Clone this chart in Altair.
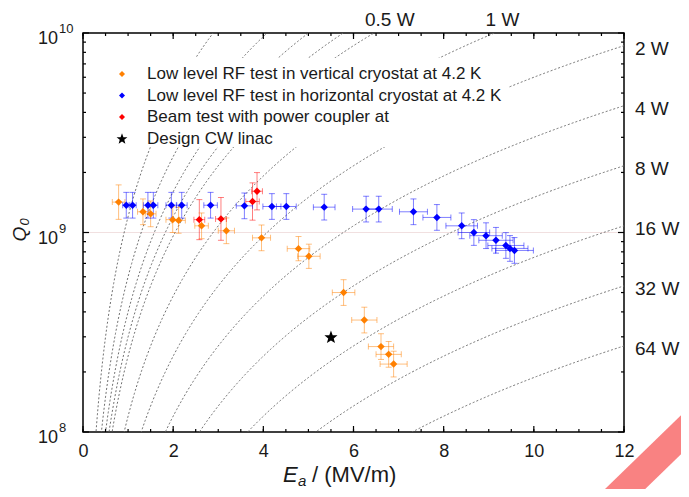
import altair as alt
import numpy as np
import pandas as pd

# ---------------- values ----------------
# Low level RF test in vertical cryostat at 4.2 K (orange)
vert_ea  = [0.79, 1.33, 1.50, 1.99, 2.12, 2.63, 3.18, 3.96, 4.78, 5.01, 5.78, 6.24, 6.61, 6.78, 6.89]
vert_q   = [1.42e9, 1.27e9, 1.24e9, 1.16e9, 1.15e9, 1.08e9, 1.02e9, 0.94e9, 0.83e9, 0.76e9,
            0.50e9, 0.364e9, 0.268e9, 0.245e9, 0.219e9]
vert_dea = [0.14, 0.12, 0.12, 0.15, 0.15, 0.15, 0.18, 0.20, 0.25, 0.25, 0.25, 0.28, 0.28, 0.28, 0.30]
vert_dq  = [0.22, 0.16, 0.16, 0.16, 0.16, 0.16, 0.16, 0.16, 0.15, 0.15, 0.16, 0.16, 0.16, 0.16, 0.16]

# Low level RF test in horizontal cryostat at 4.2 K (blue)
horiz_ea  = [0.96, 1.10, 1.44, 1.56, 1.96, 2.19, 2.83, 3.58, 4.19, 4.51, 5.35, 6.28, 6.56,
             7.33, 7.85, 8.40, 8.67, 8.94, 9.16, 9.38, 9.47, 9.57]
horiz_q   = [1.37e9, 1.37e9, 1.37e9, 1.37e9, 1.37e9, 1.37e9, 1.37e9, 1.36e9, 1.35e9, 1.35e9,
             1.34e9, 1.31e9, 1.31e9, 1.27e9, 1.19e9, 1.08e9, 1.00e9, 0.964e9, 0.914e9,
             0.861e9, 0.832e9, 0.813e9]
horiz_dea = [0.08, 0.08, 0.10, 0.10, 0.12, 0.12, 0.15, 0.18, 0.20, 0.22, 0.24, 0.30, 0.30,
             0.31, 0.31, 0.35, 0.35, 0.36, 0.38, 0.40, 0.40, 0.42]
horiz_dq  = [0.16, 0.16, 0.16, 0.16, 0.16, 0.16, 0.16, 0.16, 0.16, 0.16, 0.16, 0.16, 0.16,
             0.16, 0.16, 0.16, 0.16, 0.16, 0.16, 0.16, 0.16, 0.16]

# Beam test with power coupler (red)
beam_ea  = [2.58, 3.06, 3.76, 3.86]
beam_q   = [1.16e9, 1.17e9, 1.43e9, 1.61e9]
beam_dea = [0.12, 0.12, 0.15, 0.12]
beam_dq  = [0.26, 0.28, 0.24, 0.24]

# Design CW linac (star)
design_ea = [5.5]
design_q  = [3.0e8]

# constant dissipated-power curves  Q0 = K * Ea^2 / P
curve_k      = 1.2e8
curve_powers = [0.1, 0.2, 0.3, 0.4, 0.5, 1, 2, 4, 8, 16, 32, 64]
right_powers = [2, 4, 8, 16, 32, 64]
right_labels = ["2 W", "4 W", "8 W", "16 W", "32 W", "64 W"]
top_powers   = [0.5, 1]
top_labels   = ["0.5 W", "1 W"]

legend_labels = ["Low level RF test in vertical cryostat at 4.2 K",
                 "Low level RF test in horizontal cryostat at 4.2 K",
                 "Beam test with power coupler at",
                 "Design CW linac"]

series_names  = ["vertical", "horizontal", "beam"]
series_colors = ["#ff8000", "#0000ff", "#ff0000"]

x_major = [0, 2, 4, 6, 8, 10, 12]
x_minor = [0.5 * i for i in range(25)]
y_major = [1e8, 1e9, 1e10]
y_minor = [m * d for d in (1e8, 1e9) for m in range(2, 10)]
y_exp   = ["8", "9", "10"]

# ---------------- layout ----------------
W, H = 541, 399
FONT = "Liberation Sans"
TXT = "#1a1a1a"

# five-pointed star symbol as a custom path in the [-1, 1] box
_ang = np.deg2rad(-90 + 36 * np.arange(10))
_rad = np.where(np.arange(10) % 2 == 0, 1.0, 0.42)
STAR = "M" + " L".join(f"{r * np.cos(a):.3f},{r * np.sin(a) + 0.1:.3f}" for r, a in zip(_rad, _ang)) + " Z"

xs = alt.Scale(domain=[0, 12], nice=False, zero=False)
ys = alt.Scale(type="log", domain=[1e8, 1e10], nice=False)
cscale = alt.Scale(domain=series_names, range=series_colors)

XAX = alt.Axis(orient="bottom", values=x_major, ticks=False, domain=False, grid=False, title=None,
               labelFontSize=18, labelFont=FONT, labelColor=TXT, labelPadding=10, labelFlush=False,
               format="d")
YAX = alt.Axis(orient="left", values=y_major, ticks=False, domain=False, grid=False, title=None,
               labels=False)


def X(f):
    return alt.X(f, type="quantitative", scale=xs, axis=XAX)


def Y(f):
    return alt.Y(f, type="quantitative", scale=ys, axis=YAX)


COLOR = alt.Color("series:N", scale=cscale, legend=None)

rows = []
for name, ea, q, dea, dq in [("vertical", vert_ea, vert_q, vert_dea, vert_dq),
                             ("horizontal", horiz_ea, horiz_q, horiz_dea, horiz_dq),
                             ("beam", beam_ea, beam_q, beam_dea, beam_dq)]:
    for a, b, c, d in zip(ea, q, dea, dq):
        rows.append(dict(series=name, ea=a, q=b, ea_lo=a - c, ea_hi=a + c,
                         q_lo=b / (1 + d), q_hi=b * (1 + d)))
pts = pd.DataFrame(rows)

capv = pd.concat([pts.assign(qc=pts.q_lo), pts.assign(qc=pts.q_hi)])[["series", "ea", "qc"]]
caph = pd.concat([pts.assign(eac=pts.ea_lo), pts.assign(eac=pts.ea_hi)])[["series", "eac", "q"]]

ea_grid = np.linspace(0.02, 12, 600)
cur = []
for P in curve_powers:
    for e in ea_grid:
        qv = curve_k * e * e / P
        if 5e7 < qv < 2e10:
            cur.append(dict(P=float(P), ea=float(e), q=float(qv)))
curves_df = pd.DataFrame(cur)

rl = pd.DataFrame({"txt": right_labels, "P": right_powers})
rl["ea"] = 12.0
rl["q"] = curve_k * 144.0 / rl["P"]

tl = pd.DataFrame({"txt": top_labels, "P": top_powers})
tl["ea"] = np.sqrt(1e10 * tl["P"] / curve_k)
tl["q"] = 1e10

yl = pd.DataFrame({"q": y_major, "exp": y_exp})
design = pd.DataFrame({"ea": design_ea, "q": design_q})
one = pd.DataFrame({"a": [0]})

layers = []

# faint reference line at Q0 = 1e9
layers.append(alt.Chart(pd.DataFrame({"q": [1e9]})).mark_rule(color="#f1e0e0", strokeWidth=1)
              .encode(y=Y("q")))

# dotted constant-power curves
layers.append(alt.Chart(curves_df).mark_line(color="#707070", strokeWidth=1, strokeDash=[2, 2], clip=True)
              .encode(x=X("ea"), y=Y("q"), detail="P:N", order="ea:Q"))

# white legend background
layers.append(alt.Chart(one).mark_rect(color="white")
              .encode(x=alt.value(17), x2=alt.value(425), y=alt.value(25), y2=alt.value(114)))

# error bars + caps
layers.append(alt.Chart(pts).mark_rule(strokeWidth=1, opacity=0.5)
              .encode(x=X("ea"), y=Y("q_lo"), y2="q_hi", color=COLOR))
layers.append(alt.Chart(pts).mark_rule(strokeWidth=1, opacity=0.5)
              .encode(x=X("ea_lo"), x2="ea_hi", y=Y("q"), color=COLOR))
layers.append(alt.Chart(capv).mark_tick(orient="horizontal", size=6, thickness=1, opacity=0.5)
              .encode(x=X("ea"), y=Y("qc"), color=COLOR))
layers.append(alt.Chart(caph).mark_tick(orient="vertical", size=6, thickness=1, opacity=0.5)
              .encode(x=X("eac"), y=Y("q"), color=COLOR))

# data points
layers.append(alt.Chart(pts).mark_point(shape="diamond", filled=True, size=55, opacity=1)
              .encode(x=X("ea"), y=Y("q"), color=COLOR))

layers.append(alt.Chart(design).mark_point(shape=STAR, filled=True, size=190, color="black", opacity=1)
              .encode(x=X("ea"), y=Y("q")))

# power labels
layers.append(alt.Chart(rl).mark_text(align="left", baseline="middle", dx=11, dy=3, fontSize=19,
                                      font=FONT, color=TXT).encode(x=X("ea"), y=Y("q"), text="txt:N"))
layers.append(alt.Chart(tl).mark_text(align="left", baseline="middle", dx=-9, dy=-13, fontSize=19,
                                      font=FONT, color=TXT).encode(x=X("ea"), y=Y("q"), text="txt:N"))

# y tick labels 10^n
layers.append(alt.Chart(yl).mark_text(align="right", baseline="middle", dy=6, fontSize=18,
                                      font=FONT, color=TXT)
              .encode(x=alt.value(-25), y=Y("q"), text=alt.value("10")))
layers.append(alt.Chart(yl).mark_text(align="left", baseline="middle", dy=-4, fontSize=13,
                                      font=FONT, color=TXT)
              .encode(x=alt.value(-24), y=Y("q"), text="exp:N"))

# inward frame ticks (major 6 px, minor 3 px)
for vals, size in ((x_major, 6), (x_minor, 3)):
    d = pd.DataFrame({"v": vals})
    layers.append(alt.Chart(d).mark_tick(orient="vertical", size=size, thickness=1.2, color="black",
                                         opacity=1, yOffset=-size / 2)
                  .encode(x=X("v"), y=alt.value(H)))
    layers.append(alt.Chart(d).mark_tick(orient="vertical", size=size, thickness=1.2, color="black",
                                         opacity=1, yOffset=size / 2)
                  .encode(x=X("v"), y=alt.value(0)))
for vals, size in ((y_major, 6), (y_minor, 3)):
    d = pd.DataFrame({"v": vals})
    layers.append(alt.Chart(d).mark_tick(orient="horizontal", size=size, thickness=1.2, color="black",
                                         opacity=1, xOffset=size / 2)
                  .encode(y=Y("v"), x=alt.value(0)))
    layers.append(alt.Chart(d).mark_tick(orient="horizontal", size=size, thickness=1.2, color="black",
                                         opacity=1, xOffset=-size / 2)
                  .encode(y=Y("v"), x=alt.value(W)))

# axis titles with italic symbols and subscripts
layers.append(alt.Chart(one).mark_text(angle=270, fontSize=19, fontStyle="italic", font=FONT, color=TXT,
                                       align="center", baseline="middle")
              .encode(x=alt.value(-63), y=alt.value(201), text=alt.value("Q")))
layers.append(alt.Chart(one).mark_text(angle=270, fontSize=13, fontStyle="italic", font=FONT, color=TXT,
                                       align="center", baseline="middle")
              .encode(x=alt.value(-58), y=alt.value(189), text=alt.value("0")))
layers.append(alt.Chart(one).mark_text(fontSize=22, fontStyle="italic", font=FONT, color=TXT,
                                       align="left", baseline="middle")
              .encode(x=alt.value(200), y=alt.value(442), text=alt.value("E")))
layers.append(alt.Chart(one).mark_text(fontSize=15, fontStyle="italic", font=FONT, color=TXT,
                                       align="left", baseline="middle")
              .encode(x=alt.value(215), y=alt.value(448), text=alt.value("a")))
layers.append(alt.Chart(one).mark_text(fontSize=22, font=FONT, color=TXT, align="left", baseline="middle")
              .encode(x=alt.value(229), y=alt.value(442), text=alt.value("/ (MV/m)")))

# legend entries
for i, lab in enumerate(legend_labels):
    py = 41 + 21.5 * i
    if i < 3:
        layers.append(alt.Chart(pd.DataFrame({"series": [series_names[i]]}))
                      .mark_point(shape="diamond", filled=True, size=36, opacity=1)
                      .encode(x=alt.value(39), y=alt.value(py), color=COLOR))
    else:
        layers.append(alt.Chart(one).mark_point(shape=STAR, filled=True, size=130, color="black", opacity=1)
                      .encode(x=alt.value(39), y=alt.value(py)))
    layers.append(alt.Chart(one).mark_text(align="left", baseline="middle", fontSize=17, font=FONT, color=TXT)
                  .encode(x=alt.value(64), y=alt.value(py), text=alt.value(lab)))

# pink diagonal band in the lower right corner of the picture
layers.append(alt.Chart(one).mark_rule(color="#f98282", strokeWidth=28, strokeCap="butt")
              .encode(x=alt.value(504), x2=alt.value(640), y=alt.value(493), y2=alt.value(361)))

chart = alt.layer(*layers).properties(
    width=W, height=H,
    autosize=alt.AutoSizeParams(type="none"),
    padding={"left": 75, "top": 25, "right": 57, "bottom": 57},
).configure_view(stroke="black", strokeWidth=1.5)

chart.save("out.html", embed_options={"renderer": "svg", "actions": False})
